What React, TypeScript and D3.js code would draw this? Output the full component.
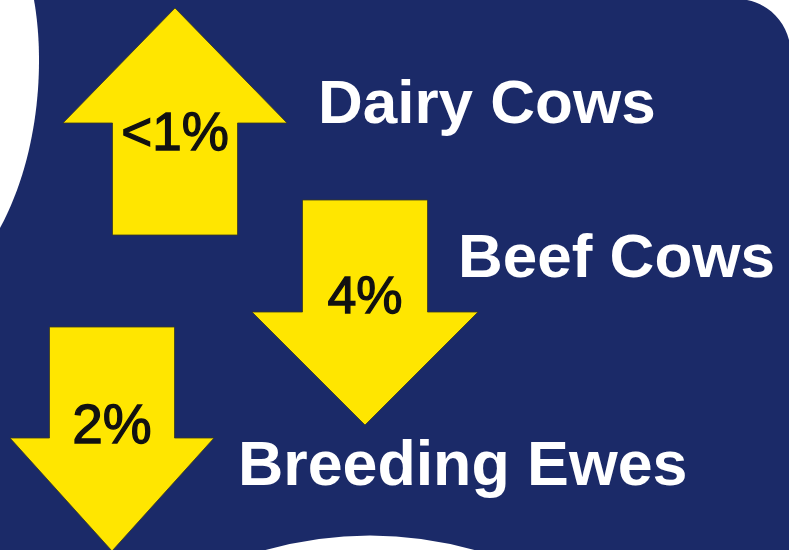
import React from "react";
import * as d3 from "d3";

// ---- Data ----
const categories = ["Dairy Cows", "Beef Cows", "Breeding Ewes"];
const changeLabels = ["<1%", "4%", "2%"];
const directions = ["up", "down", "down"];

// ---- Layout (not data) ----
const W = 789;
const H = 550;
const BLUE = "#1b2a68";
const YELLOW = "#ffe600";

// arrow geometry per category
const arrowCx = [175, 365, 112];
const arrowTop = [8, 200, 327];
const headWs = [224, 226, 204];
const shaftW = 125;
const shaftLens = [112, 112, 111];
const headLens = [115, 113, 113];

const labelX = [318, 458, 238];
const labelY = [123, 277, 485];
const labelSize = [62, 62, 62.7];
const pctY = [150, 313, 443];
const pctSize = [53, 52, 55];

const line = d3.line<[number, number]>();

function arrowPoints(i: number): [number, number][] {
  const cx = arrowCx[i];
  const top = arrowTop[i];
  const headW = headWs[i];
  const headLen = headLens[i];
  const shaftLen = shaftLens[i];
  const x = d3.scaleLinear().domain([-1, 1]).range([cx - headW / 2, cx + headW / 2]);
  const sw = shaftW / headW;
  if (directions[i] === "up") {
    const base = top + headLen;
    const bottom = base + shaftLen;
    return [
      [x(0), top],
      [x(1), base],
      [x(sw), base],
      [x(sw), bottom],
      [x(-sw), bottom],
      [x(-sw), base],
      [x(-1), base],
    ];
  }
  const headTop = top + shaftLen;
  const tip = headTop + headLen;
  return [
    [x(-sw), top],
    [x(sw), top],
    [x(sw), headTop],
    [x(1), headTop],
    [x(0), tip],
    [x(-1), headTop],
    [x(-sw), headTop],
  ];
}

export default function App() {
  return (
    <svg
      width={W}
      height={H}
      style={{ position: "absolute", left: 0, top: 0 }}
      viewBox={`0 0 ${W} ${H}`}
    >
      <rect x={0} y={0} width={W} height={H} fill={BLUE} />
      {/* white background cut-outs */}
      <path d="M0,0 L34,0 C44,55 42,150 0,228 Z" fill="#ffffff" />
      <path d="M747,0 C768,4 784,20 789,40 L789,0 Z" fill="#ffffff" />
      <path d="M262,551 Q370,520 478,551 Z" fill="#ffffff" />

      {categories.map((c, i) => (
        <g key={c}>
          <path
            d={line(arrowPoints(i)) + "Z"}
            fill={YELLOW}
            stroke="#3a3a20"
            strokeWidth={0.8}
            strokeLinejoin="miter"
          />
          <text
            x={arrowCx[i]}
            y={pctY[i]}
            textAnchor="middle"
            fontFamily="'Liberation Sans', Arial, sans-serif"
            fontSize={pctSize[i]}
            fill="#111111"
            stroke="#111111"
            strokeWidth={1.3}
          >
            {changeLabels[i]}
          </text>
          <text
            x={labelX[i]}
            y={labelY[i]}
            fontFamily="'Liberation Sans', Arial, sans-serif"
            fontWeight="bold"
            fontSize={labelSize[i]}
            fill="#ffffff"
          >
            {c}
          </text>
        </g>
      ))}
    </svg>
  );
}
